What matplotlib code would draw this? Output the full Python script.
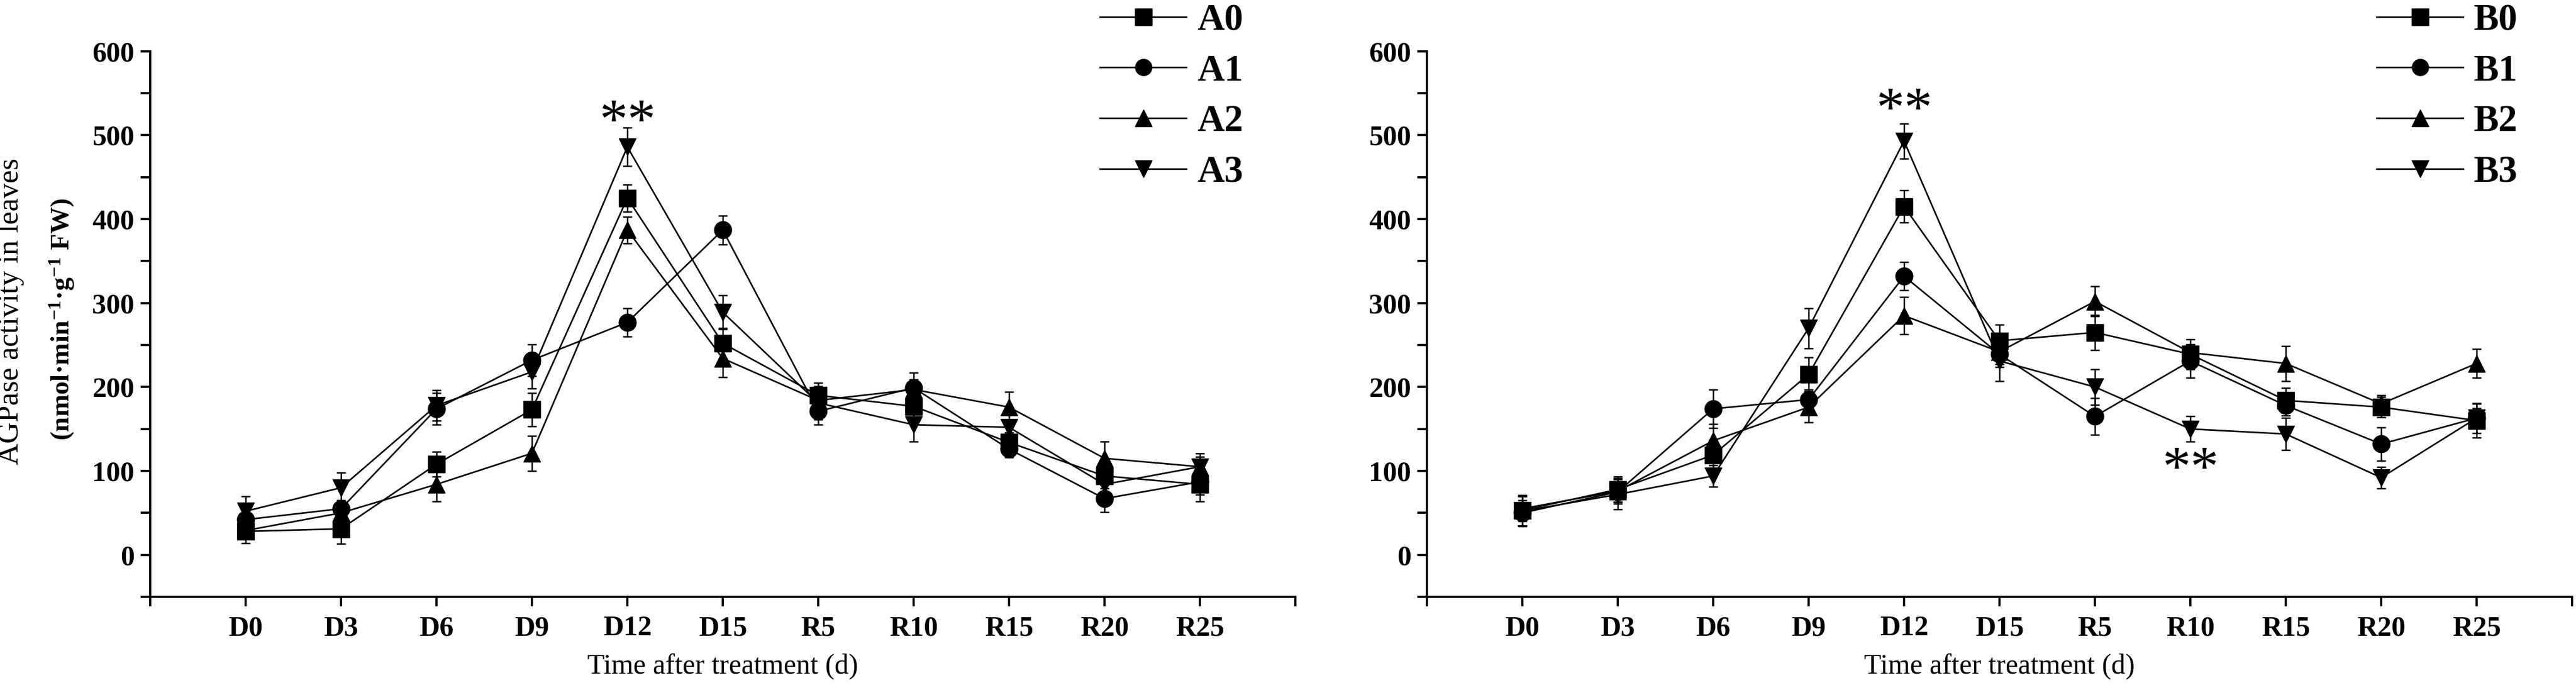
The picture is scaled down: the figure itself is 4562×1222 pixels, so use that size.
import numpy as np
import matplotlib
matplotlib.use("Agg")
import matplotlib.pyplot as plt
from matplotlib.lines import Line2D

plt.rcParams["font.family"] = ["Liberation Serif", "DejaVu Serif"]
plt.rcParams["mathtext.fontset"] = "custom"
plt.rcParams["mathtext.rm"] = "Liberation Serif:bold"
plt.rcParams["mathtext.bf"] = "Liberation Serif:bold"
plt.rcParams["mathtext.default"] = "bf"

# -- Daten ---------------------------------------------------------------------
time_labels = ["D0", "D3", "D6", "D9", "D12", "D15", "R5", "R10", "R15", "R20", "R25"]

names_a = ["A0", "A1", "A2", "A3"]
a0 = [28, 31, 108, 173, 425, 252, 190, 177, 134, 94, 84]
a1 = [42, 55, 174, 232, 277, 387, 171, 199, 126, 67, 87]
a2 = [29, 50, 84, 121, 387, 234, 184, 197, 176, 115, 105]
a3 = [52, 80, 178, 218, 486, 289, 181, 155, 152, 84, 105]
a0_err = [14, 18, 15, 20, 16, 18, 15, 15, 12, 15, 20]
a1_err = [12, 10, 19, 19, 17, 17, 16, 18, 10, 16, 15]
a2_err = [10, 8, 20, 21, 16, 22, 12, 12, 18, 20, 16]
a3_err = [18, 18, 18, 20, 23, 20, 20, 20, 15, 12, 12]

names_b = ["B0", "B1", "B2", "B3"]
b0 = [53, 78, 119, 215, 415, 255, 265, 239, 184, 176, 160]
b1 = [50, 75, 174, 185, 332, 239, 165, 231, 178, 132, 163]
b2 = [55, 76, 136, 176, 285, 242, 302, 241, 228, 180, 228]
b3 = [52, 72, 94, 270, 493, 231, 200, 150, 144, 92, 163]
b0_err = [18, 15, 18, 20, 19, 19, 21, 18, 15, 12, 20]
b1_err = [15, 12, 23, 12, 17, 15, 22, 20, 12, 20, 18]
b2_err = [15, 15, 20, 18, 22, 15, 18, 10, 21, 10, 17]
b3_err = [18, 18, 13, 24, 21, 24, 21, 15, 19, 13, 12]

# Signifikanz-Sterne: (Panel, Zeitpunkt, Höhe)
stars = [(0, "D12", 514), (1, "D12", 528), (1, "R10", 100)]

markers = ["s", "o", "^", "v"]

# -- Plot ----------------------------------------------------------------------
fig = plt.figure(figsize=(45.62, 12.22), dpi=100)
ax_a = fig.add_axes([0.05831, 0.13502, 0.44454, 0.79075])
ax_b = fig.add_axes([0.55392, 0.13502, 0.44454, 0.79075])

x = np.arange(len(time_labels))

panels = [
    (ax_a, names_a, [a0, a1, a2, a3], [a0_err, a1_err, a2_err, a3_err], 0.4270),
    (ax_b, names_b, [b0, b1, b2, b3], [b0_err, b1_err, b2_err, b3_err], 0.9226),
]

for ax, names, series, errs, leg_x in panels:
    handles = []
    for name, y, e, m in zip(names, series, errs, markers):
        ax.errorbar(
            x, y, yerr=e, fmt="-", marker=m, color="black",
            lw=2, markersize=22, elinewidth=1.8, capsize=6, capthick=1.8,
        )
        handles.append(Line2D([], [], color="black", lw=2, marker=m,
                              markersize=21, label=name))

    ax.set_xlim(-1, 11)
    ax.set_ylim(-50, 600)
    ax.set_xticks(np.arange(-1, 12))
    ax.set_xticklabels([""] + time_labels + [""])
    ax.set_yticks(np.arange(0, 601, 100))
    ax.set_yticks(np.arange(-50, 601, 100), minor=True)

    for side in ("top", "right"):
        ax.spines[side].set_visible(False)
    for side in ("left", "bottom"):
        ax.spines[side].set_linewidth(2.8)

    ax.tick_params(axis="both", which="both", direction="out", width=2.8, length=12)
    ax.tick_params(axis="x", pad=12)
    ax.tick_params(axis="y", pad=8)
    for lab in ax.get_xticklabels() + ax.get_yticklabels():
        lab.set_fontsize(36)
        lab.set_fontweight("bold")

    ax.set_xlabel("Time after treatment (d)", fontsize=36)
    ax.xaxis.set_label_coords(0.5, -0.1283)
    ax.xaxis.label.set_va("center")

    ax.legend(
        handles=handles,
        loc="upper left", bbox_to_anchor=(leg_x, 0.995),
        bbox_transform=fig.transFigure, frameon=False,
        prop={"size": 48, "weight": "bold"},
        handlelength=2.3, handletextpad=0.28, labelspacing=0.43,
        borderpad=0, borderaxespad=0,
    )

for panel, t, h in stars:
    ax = (ax_a, ax_b)[panel]
    ax.text(time_labels.index(t), h, "**", ha="center", va="center", fontsize=72)

# y-Achsenbeschriftung (zweizeilig, zweite Zeile fett)
fig.text(19 / 4562, 1 - 551 / 1222, "AGPase activity in leaves",
         rotation=90, ha="center", va="center", fontsize=38)
fig.text(110 / 4562, 1 - 565 / 1222, r"(nmol·min$^{-1}$·g$^{-1}$ FW)",
         rotation=90, ha="center", va="center", fontsize=34, fontweight="bold")

fig.savefig("out.png", dpi=100)
plt.close(fig)
